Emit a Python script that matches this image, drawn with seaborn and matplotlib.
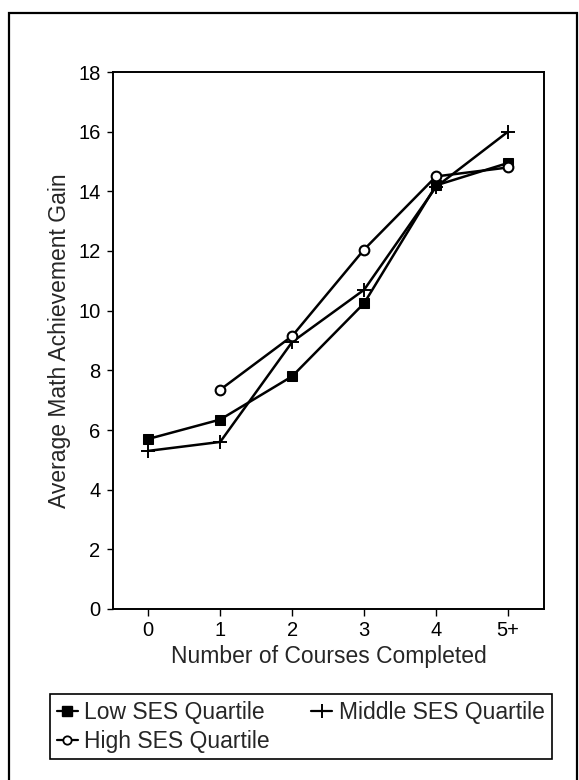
import matplotlib
matplotlib.use("Agg")
import matplotlib.pyplot as plt
import matplotlib.patches as mpatches
from matplotlib.lines import Line2D
import seaborn as sns
import pandas as pd
import numpy as np

# ---- data ----
categories = ["0", "1", "2", "3", "4", "5+"]
low_ses = [5.7, 6.35, 7.8, 10.25, 14.2, 14.95]
middle_ses = [5.3, 5.6, 8.95, 10.7, 14.15, 16.0]
high_ses = [np.nan, 7.35, 9.15, 12.05, 14.5, 14.8]
series_names = ["Low SES Quartile", "Middle SES Quartile", "High SES Quartile"]
y_ticks = [0, 2, 4, 6, 8, 10, 12, 14, 16, 18]

frames = []
for name, vals in zip(series_names, [low_ses, middle_ses, high_ses]):
    frames.append(pd.DataFrame({"courses": categories, "gain": vals, "group": name}))
df = pd.concat(frames, ignore_index=True).dropna()

sns.set_theme(style="white")
plt.rcParams["font.family"] = ["Liberation Sans", "DejaVu Sans"]

fig = plt.figure(figsize=(5.79, 7.80), dpi=100)
ax = fig.add_axes([113 / 579, 1 - 609 / 780, (544 - 113) / 579, (609 - 72) / 780])

markers = {"Low SES Quartile": "s", "Middle SES Quartile": "P", "High SES Quartile": "o"}
sns.lineplot(data=df, x="courses", y="gain", hue="group", style="group",
             hue_order=series_names, style_order=series_names,
             palette=["black", "black", "black"], markers=markers, dashes=False,
             linewidth=1.8, markersize=8, sort=False, legend=False, ax=ax)

# style markers: filled square, thin plus, open circle
for line in ax.get_lines():
    line.set_color("black")
lines = ax.get_lines()
if len(lines) >= 3:
    lines[0].set_marker("s"); lines[0].set_markerfacecolor("black"); lines[0].set_markeredgecolor("black"); lines[0].set_markersize(6.5)
    lines[1].set_marker("+"); lines[1].set_markeredgecolor("black"); lines[1].set_markersize(10); lines[1].set_markeredgewidth(1.4)
    lines[2].set_marker("o"); lines[2].set_markerfacecolor("white"); lines[2].set_markeredgecolor("black"); lines[2].set_markersize(7); lines[2].set_markeredgewidth(1.5)

ax.set_xlim(-0.49, 5.5)
ax.set_ylim(0, 18)
ax.set_yticks(y_ticks)
ax.set_yticklabels([str(t) for t in y_ticks])
ax.set_xlabel("Number of Courses Completed", fontsize=16.5, labelpad=3)
ax.set_ylabel("Average Math Achievement Gain", fontsize=16.5, labelpad=5)
ax.tick_params(axis="y", which="major", direction="out", length=4, width=1, pad=5,
               labelsize=14.5, colors="black", left=True)
ax.tick_params(axis="x", which="major", direction="out", length=5, width=1, pad=4,
               labelsize=14.5, colors="black", bottom=True)
for s in ax.spines.values():
    s.set_color("black")
    s.set_linewidth(1.4)
    s.set_visible(True)
ax.grid(False)

# legend
h_low = Line2D([], [], color="black", marker="s", markersize=6.5, linewidth=1.6)
h_mid = Line2D([], [], color="black", marker="+", markersize=10, markeredgewidth=1.4, linewidth=1.6)
h_high = Line2D([], [], color="black", marker="o", markerfacecolor="white", markersize=6,
                markeredgewidth=1.3, linewidth=1.6)
leg = fig.legend([h_low, h_high, h_mid],
                 [series_names[0], series_names[2], series_names[1]],
                 ncol=2, loc="upper left", bbox_to_anchor=(50 / 579, 1 - 694 / 780),
                 borderaxespad=0, fontsize=16.5, frameon=True, fancybox=False,
                 handlelength=0.9, handletextpad=0.3, columnspacing=1.8,
                 labelspacing=0.25, borderpad=0.3)
leg.get_frame().set_edgecolor("black")
leg.get_frame().set_linewidth(1.2)
leg.get_frame().set_alpha(1)

# outer frame
fig.patches.append(mpatches.Rectangle((9 / 579, -0.02), (577 - 9) / 579, (780 - 13) / 780 + 0.02,
                                      transform=fig.transFigure, fill=False,
                                      edgecolor="black", linewidth=1.6))

fig.savefig("out.png", dpi=100)
